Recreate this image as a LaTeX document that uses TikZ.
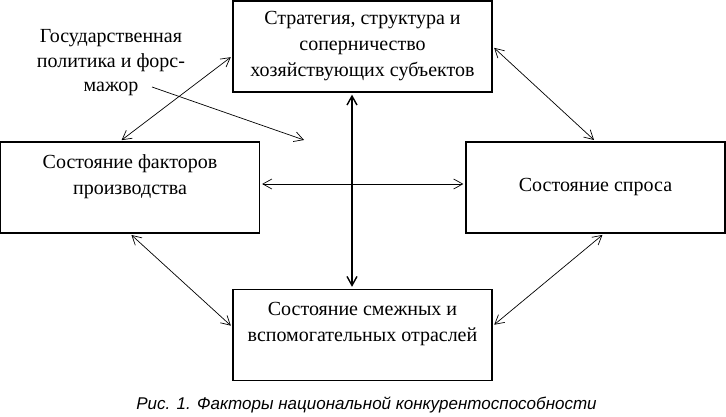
\documentclass[tikz,border=0pt]{standalone}
\usepackage{fontspec}
\setmainfont{Liberation Serif}
\newfontfamily\capfont{Liberation Sans}
\usetikzlibrary{arrows.meta}

\begin{document}
\begin{tikzpicture}[x=1pt,y=-1pt,>={Straight Barb[length=9pt,width=10pt]},
    box/.style={draw,line width=1.3pt,minimum width=259pt,minimum height=91pt,
        inner sep=0pt,align=center,font=\fontsize{20pt}{26pt}\selectfont},
    link/.style={<->,line width=0.7pt,shorten >=2pt,shorten <=2pt},
    note/.style={align=center,inner sep=0pt,font=\fontsize{20pt}{24.5pt}\selectfont}]

    \useasboundingbox (0,0) rectangle (726,417);

    \node[box] (st) at (362.5,46.5) {Стратегия, структура и\\соперничество\\хозяйствующих субъектов};
    \node[box] (lf) at (130,187.5)  {Состояние факторов\\производства\\~};
    \node[box] (rt) at (595.5,187.5) {Состояние спроса};
    \node[box] (bt) at (362.5,335)  {Состояние смежных и\\вспомогательных отраслей\\~};
    \node[note] (gov) at (111,63) {Государственная\\политика и форс-\\мажор};

    \coordinate (gov tail) at (152,87);
    \coordinate (gov head) at (304,140);

    \draw[link] ([xshift=-10pt]lf.north) -- ([yshift=-9.5pt]st.west);
    \draw[->,line width=0.7pt] (gov tail) -- (gov head);
    \draw[link,line width=1.4pt] ([xshift=-10.5pt]st.south) -- ([xshift=-10.5pt]bt.north);
    \draw[link] ([yshift=3.5pt]lf.east) -- ([yshift=3.5pt]rt.west);
    \draw[link] (st.east) -- (rt.north);
    \draw[link] (lf.south) -- ([yshift=8pt]bt.west);
    \draw[link] ([xshift=8.5pt]rt.south) -- ([yshift=9pt]bt.east);

    \node[font=\capfont\itshape\fontsize{17pt}{19pt}\selectfont] (cap) at (366.5,405)
        {Рис. 1. Факторы национальной конкурентоспособности};
\end{tikzpicture}
\end{document}
